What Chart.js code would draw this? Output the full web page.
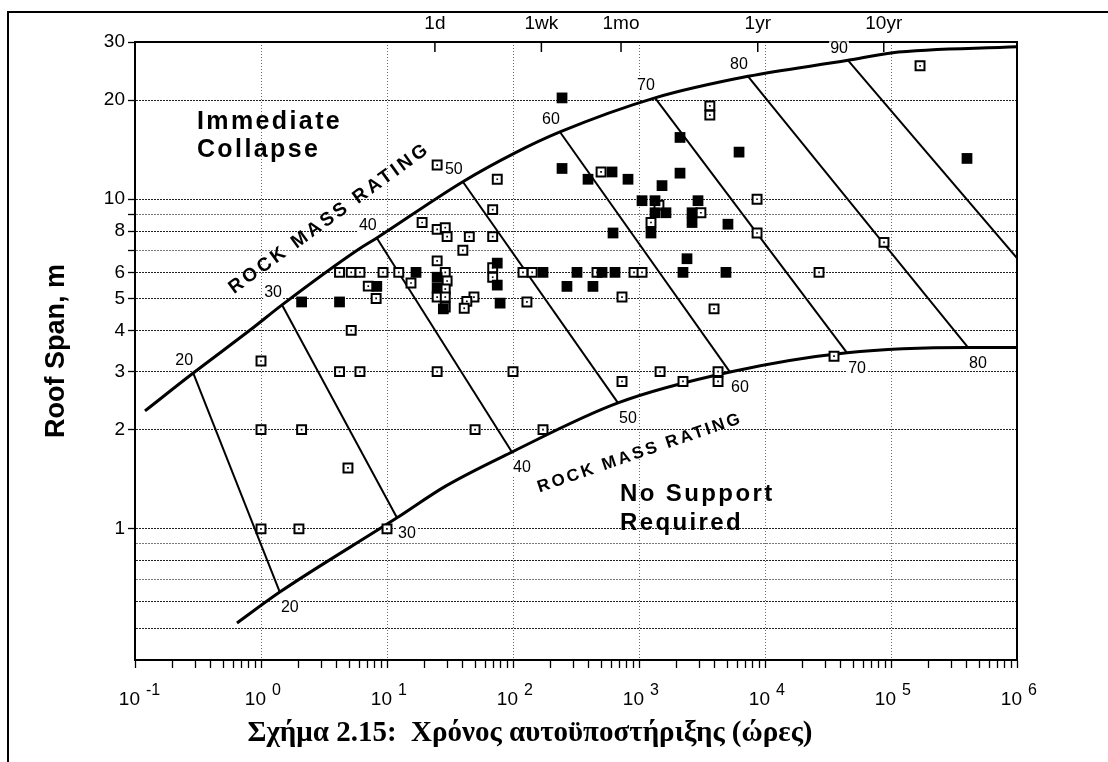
<!DOCTYPE html>
<html>
<head>
<meta charset="utf-8">
<script src="https://cdn.jsdelivr.net/npm/chart.js@4.4.0/dist/chart.umd.min.js"></script>
<style>
    html, body { margin: 0; padding: 0; background: #fff; }
    #wrap { position: relative; width: 1108px; height: 762px; overflow: hidden; }
    #frame { position: absolute; left: 7px; top: 11px; right: -4px; bottom: -4px; border-left: 2px solid #000; border-top: 2px solid #000; }
    #chart { position: absolute; left: 0; top: 0; }
    #caption { position: absolute; left: 0; top: 717px; width: 1060px; text-align: center; white-space: pre;
               font: bold 29px "Liberation Serif", "Times New Roman", serif; line-height: 29px; color: #000; }
</style>
</head>
<body>
<div id="wrap">
    <div id="frame"></div>
    <canvas id="chart" width="1108" height="762"></canvas>
    <div id="caption">Σχήμα 2.15:  Χρόνος αυτοϋποστήριξης (ώρες)</div>
</div>
<script>
// axes: stand-up time in hours (log), roof span in m (log)
const timeDecades = [-1, 0, 1, 2, 3, 4, 5, 6];
const minorSteps = [2, 3, 4, 5, 6, 7, 8, 9];
const topTickHours = [24, 168, 720, 8760, 87600];
const topTickLabels = ['1d', '1wk', '1mo', '1yr', '10yr'];
const spanGrid = [0.5, 0.6, 0.7, 0.8, 0.9, 1, 2, 3, 4, 5, 6, 7, 8, 9, 10, 20, 30];
const spanLabels = [1, 2, 3, 4, 5, 6, 8, 10, 20, 30];
const spanStrong = [0.5, 0.6, 0.8, 1, 2, 3, 4, 5, 6, 8, 10, 20];

// upper boundary (immediate collapse)
const upperTime = [0.12, 0.29, 0.82, 1.47, 5.8, 8.3, 40, 103, 236, 1340, 7330, 45600, 100000, 1000000];
const upperSpan = [2.28, 2.97, 4.01, 4.78, 7.0, 7.63, 11.3, 13.8, 16.0, 20.3, 23.6, 26.4, 27.8, 29.0];

// lower boundary (no support required)
const lowerTime = [0.645, 1.41, 12.0, 29.4, 98, 681, 5275, 44770, 408000, 1000000];
const lowerSpan = [0.518, 0.643, 1.08, 1.35, 1.71, 2.41, 2.99, 3.42, 3.55, 3.55];

// rock mass rating lines
const rmrRatings = [20, 30, 40, 50, 60, 70, 80, 90];
const rmrTopTime = [0.29, 1.47, 8.3, 40, 236, 1340, 7330, 45600];
const rmrTopSpan = [2.97, 4.78, 7.63, 11.3, 16.0, 20.3, 23.6, 26.4];
const rmrLowTime = [1.41, 12.0, 98, 681, 5275, 44770, 408000, 1000000];
const rmrLowSpan = [0.643, 1.08, 1.71, 2.41, 2.99, 3.42, 3.55, 6.63];
const rmrLowLabelled = [20, 30, 40, 50, 60, 70, 80];

// case histories: open squares
const openTime = [25, 75, 69, 19, 25, 29, 30, 45, 69, 40,
    500, 3650, 3650, 1440, 1245, 3100, 8650, 8650, 170000, 88000,
    4.2, 5.2, 6.1, 9.3, 12.4, 15.5, 7.1, 8.2,
    25, 29, 30, 29, 25, 29, 29,
    49, 43, 41, 69, 69, 120, 142, 129, 464, 913, 1057, 733, 3940, 26850, 35300,
    4.2, 6.1, 25, 100, 1470, 4240,
    733, 2234, 4240,
    1.0, 1, 2.1, 50, 173, 4.9, 1, 2, 10, 5.2];
const openSpan = [12.7, 11.5, 9.3, 8.5, 8.1, 8.2, 7.7, 7.7, 7.7, 7.0,
    12.1, 19.2, 18.0, 9.6, 8.5, 9.1, 10.0, 7.9, 25.4, 7.4,
    6, 6, 6, 6, 6, 5.57, 5.45, 5.0,
    6.5, 6.0, 5.65, 5.34, 5.05, 5.05, 4.71,
    5.05, 4.9, 4.67, 6.2, 5.8, 6, 6, 4.88, 6, 6, 6, 5.05, 4.65, 6, 3.34,
    3, 3, 3, 3, 3, 3,
    2.8, 2.8, 2.8,
    3.23, 2, 2, 2, 2, 1.53, 1, 1, 1, 4.0];

// case histories: filled squares
const solidTime = [245, 2116, 6223, 401000, 245, 394, 611, 818, 2116, 1523,
    1057, 1340, 1340, 1637, 2940, 2636, 2636, 5081, 622, 1245, 2404,
    17, 173, 322, 509, 645, 2234, 4900,
    268, 431, 8.3, 2.1, 4.2, 75, 75, 79, 25, 25, 28];
const solidSpan = [20.3, 15.4, 13.9, 13.3, 12.4, 11.5, 12.1, 11.5, 12.0, 11.0,
    9.9, 9.9, 9.1, 9.1, 9.9, 9.1, 8.5, 8.4, 7.9, 7.9, 6.6,
    6, 6, 6, 6, 6, 6, 6,
    5.44, 5.44, 5.44, 4.88, 4.88, 6.4, 5.49, 4.84, 5.8, 5.38, 4.65];

const FONT = '"Liberation Sans", Arial, Helvetica, sans-serif';

const toPoints = (xs, ys) => xs.map((x, i) => ({ x: x, y: ys[i] }));

const xTicks = [];
timeDecades.forEach(d => {
    xTicks.push({ value: Math.pow(10, d), major: true });
    if (d < 6) minorSteps.forEach(m => xTicks.push({ value: m * Math.pow(10, d), major: false }));
});

const datasets = [];
datasets.push({
    data: toPoints(openTime, openSpan), order: 1,
    pointStyle: 'rect', pointRadius: 1.2, backgroundColor: '#000', borderWidth: 0
});
datasets.push({
    data: toPoints(solidTime, solidSpan), order: 1,
    pointStyle: 'rect', pointRadius: 7.6, backgroundColor: '#000', borderColor: '#000', borderWidth: 0
});
datasets.push({
    data: toPoints(openTime, openSpan), order: 2,
    pointStyle: 'rect', pointRadius: 6.3, backgroundColor: '#fff', borderColor: '#000', borderWidth: 2
});
datasets.push({
    data: toPoints(upperTime, upperSpan), order: 3, showLine: true, fill: false,
    borderColor: '#000', borderWidth: 3, pointRadius: 0, cubicInterpolationMode: 'monotone'
});
datasets.push({
    data: toPoints(lowerTime, lowerSpan), order: 3, showLine: true, fill: false,
    borderColor: '#000', borderWidth: 3, pointRadius: 0, cubicInterpolationMode: 'monotone'
});
rmrRatings.forEach((r, i) => {
    datasets.push({
        data: [{ x: rmrTopTime[i], y: rmrTopSpan[i] }, { x: rmrLowTime[i], y: rmrLowSpan[i] }],
        order: 3, showLine: true, fill: false, borderColor: '#000', borderWidth: 2, pointRadius: 0
    });
});

// free text on the plot, anchored in data units
const notes = [
    { lines: ['Immediate', 'Collapse'], t: 0.31, s: 17.2, size: 25, spacing: 2.4, step: 28, align: 'left', angle: 0 },
    { lines: ['No Support', 'Required'], t: 706, s: 1.275, size: 24, spacing: 2.4, step: 29, align: 'left', angle: 0 },
    { lines: ['ROCK MASS RATING'], t: 3.5, s: 8.75, size: 19, spacing: 3.2, step: 0, align: 'center', angle: -36 },
    { lines: ['ROCK MASS RATING'], t: 1018, s: 1.70, size: 17, spacing: 2.7, step: 0, align: 'center', angle: -19 }
];

const decorPlugin = {
    id: 'decor',
    afterDraw(chart) {
        const { ctx, chartArea: a, scales } = chart;
        const xs = scales.x, ys = scales.y, xt = scales.xTop;
        ctx.save();

        // right side of the plot box
        ctx.strokeStyle = '#000';
        ctx.lineWidth = 2;
        ctx.beginPath();
        ctx.moveTo(a.right, a.top - 1);
        ctx.lineTo(a.right, a.bottom + 1);
        ctx.stroke();

        // inward ticks of the top time axis
        ctx.lineWidth = 1.5;
        xt.ticks.forEach(t => {
            const px = xt.getPixelForValue(t.value);
            ctx.beginPath();
            ctx.moveTo(px, a.top);
            ctx.lineTo(px, a.top + 10);
            ctx.stroke();
        });

        // 10^n labels under the bottom axis
        ctx.fillStyle = '#000';
        ctx.textBaseline = 'alphabetic';
        timeDecades.forEach(d => {
            const px = xs.getPixelForValue(Math.pow(10, d));
            ctx.font = '19px ' + FONT;
            ctx.textAlign = 'right';
            ctx.fillText('10', px + 5, a.bottom + 45);
            ctx.font = '16px ' + FONT;
            ctx.textAlign = 'left';
            ctx.fillText(d < 0 ? '-' + (-d) : String(d), px + 11, a.bottom + 35);
        });

        // y axis title
        ctx.save();
        ctx.translate(57, (a.top + a.bottom) / 2);
        ctx.rotate(-Math.PI / 2);
        ctx.font = 'bold 27px ' + FONT;
        ctx.textAlign = 'center';
        ctx.textBaseline = 'middle';
        ctx.fillText('Roof Span, m', 0, 0);
        ctx.restore();

        // RMR numbers at both ends of the rating lines
        ctx.font = '16px ' + FONT;
        ctx.textAlign = 'center';
        ctx.textBaseline = 'middle';
        const tag = (txt, x, y) => {
            const w = ctx.measureText(txt).width;
            ctx.fillStyle = '#fff';
            ctx.fillRect(x - w / 2 - 1, y - 7, w + 2, 14);
            ctx.fillStyle = '#000';
            ctx.fillText(txt, x, y);
        };
        rmrRatings.forEach((r, i) => {
            tag(String(r), xs.getPixelForValue(rmrTopTime[i]) - 9, ys.getPixelForValue(rmrTopSpan[i]) - 12);
            if (rmrLowLabelled.includes(r)) {
                tag(String(r), xs.getPixelForValue(rmrLowTime[i]) + 10, ys.getPixelForValue(rmrLowSpan[i]) + 16);
            }
        });

        // region captions
        notes.forEach(n => {
            ctx.save();
            ctx.translate(xs.getPixelForValue(n.t), ys.getPixelForValue(n.s));
            ctx.rotate(n.angle * Math.PI / 180);
            ctx.font = 'bold ' + n.size + 'px ' + FONT;
            ctx.letterSpacing = n.spacing + 'px';
            ctx.textAlign = n.align;
            ctx.textBaseline = 'middle';
            ctx.fillStyle = '#000';
            n.lines.forEach((line, k) => ctx.fillText(line, 0, k * n.step));
            ctx.restore();
        });

        ctx.restore();
    }
};

new Chart(document.getElementById('chart'), {
    type: 'scatter',
    data: { datasets: datasets },
    options: {
        responsive: false,
        animation: false,
        events: [],
        layout: { padding: { left: 0, right: 91, top: 0, bottom: 0 } },
        plugins: { legend: { display: false }, tooltip: { enabled: false } },
        scales: {
            x: {
                type: 'logarithmic', position: 'bottom', min: 0.1, max: 1e6, bounds: 'data',
                afterBuildTicks: s => { s.ticks = xTicks.map(t => ({ value: t.value, major: t.major })); },
                afterFit: s => { s.height = 102; },
                ticks: { display: false, autoSkip: false },
                grid: {
                    color: c => (c.tick && c.tick.major) ? '#6a6a6a' : 'rgba(0,0,0,0)',
                    tickColor: '#000', tickLength: 8, lineWidth: 1, tickWidth: 1.3
                },
                border: { display: true, color: '#000', width: 2, dash: [1, 2] }
            },
            xTop: {
                type: 'logarithmic', position: 'top', min: 0.1, max: 1e6, bounds: 'data',
                afterBuildTicks: s => { s.ticks = topTickHours.map(v => ({ value: v })); },
                afterFit: s => { s.height = 42; },
                ticks: {
                    autoSkip: false, maxRotation: 0, padding: 7, color: '#000',
                    font: { family: FONT, size: 19 },
                    callback: (v, i) => topTickLabels[i]
                },
                grid: { display: false, drawTicks: false },
                border: { display: true, color: '#000', width: 2 }
            },
            y: {
                type: 'logarithmic', position: 'left', min: 0.4, max: 30, bounds: 'data',
                afterBuildTicks: s => { s.ticks = spanGrid.map(v => ({ value: v })); },
                afterFit: s => { s.width = 135; },
                ticks: {
                    autoSkip: false, padding: 3, color: '#000',
                    font: { family: FONT, size: 19 },
                    callback: v => spanLabels.includes(v) ? String(v) : ''
                },
                grid: {
                    color: c => (c.tick && spanStrong.includes(c.tick.value)) ? '#222' : '#777',
                    tickColor: c => (c.tick && c.tick.value >= 1) ? '#000' : 'rgba(0,0,0,0)',
                    tickLength: 7, lineWidth: 1, tickWidth: 1.3
                },
                border: { display: true, color: '#000', width: 2, dash: [2, 1] }
            }
        }
    },
    plugins: [decorPlugin]
});
</script>
</body>
</html>
